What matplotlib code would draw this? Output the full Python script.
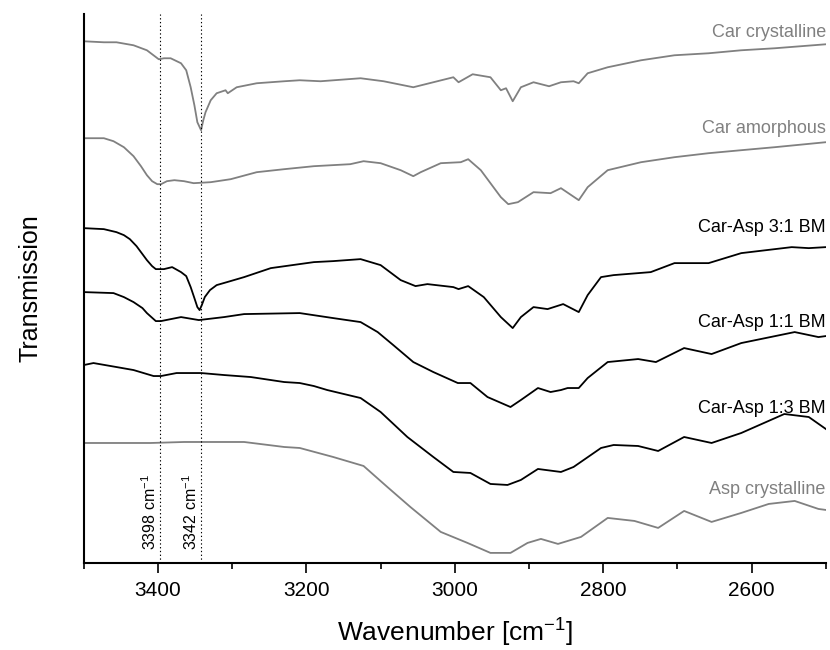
import numpy as np
import matplotlib
matplotlib.use('Agg')
import matplotlib.pyplot as plt
from matplotlib.ticker import MultipleLocator

plt.rcParams['font.family'] = ['Liberation Sans', 'DejaVu Sans']
plt.rcParams['mathtext.fontset'] = 'custom'
plt.rcParams['mathtext.rm'] = 'Liberation Sans'
plt.rcParams['mathtext.it'] = 'Liberation Sans:italic'

#%% spectra (wavenumber in cm-1, transmission in a.u. with offsets)
car_cryst_wn = [3500, 3473, 3456, 3433, 3415, 3399, 3392, 3383, 3369, 3362, 3356, 3351,
                3347, 3342, 3339, 3336, 3329, 3321, 3309, 3306, 3294, 3267, 3230, 3209,
                3181, 3127, 3096, 3056, 3029, 3002, 2995, 2976, 2952, 2938, 2931, 2922,
                2911, 2894, 2873, 2857, 2840, 2833, 2821, 2794, 2749, 2704, 2658, 2614,
                2569, 2500]
car_cryst = [522, 521, 521, 518, 513, 504, 505, 505, 500, 493, 476, 458,
             441, 433, 443, 451, 463, 470, 473, 470, 476, 480, 482, 483,
             482, 485, 482, 476, 481, 486, 481, 489, 486, 473, 475, 462,
             476, 481, 477, 481, 482, 480, 490, 496, 503, 508, 510, 513,
             515, 519]

car_amor_wn = [3500, 3473, 3460, 3446, 3433, 3423, 3415, 3408, 3401, 3396, 3388, 3378,
               3365, 3352, 3329, 3302, 3267, 3230, 3190, 3141, 3123, 3100, 3073, 3056,
               3046, 3019, 2992, 2982, 2965, 2938, 2928, 2915, 2894, 2871, 2857, 2833,
               2821, 2794, 2749, 2704, 2658, 2614, 2569, 2500]
car_amor = [425, 425, 422, 416, 407, 397, 388, 382, 379, 379, 382, 383,
            382, 380, 381, 384, 391, 394, 397, 399, 402, 400, 393, 387,
            391, 400, 401, 404, 393, 366, 359, 361, 371, 370, 375, 363,
            376, 393, 401, 406, 410, 413, 416, 421]

bm31_wn = [3500, 3473, 3456, 3446, 3438, 3429, 3421, 3415, 3408, 3403, 3392, 3381,
           3369, 3362, 3356, 3351, 3347, 3344, 3341, 3337, 3330, 3321, 3307, 3284,
           3248, 3190, 3164, 3127, 3100, 3073, 3053, 3037, 3002, 2995, 2982, 2961,
           2938, 2922, 2911, 2894, 2875, 2854, 2833, 2821, 2803, 2786, 2736, 2704,
           2658, 2614, 2546, 2523, 2500]
bm31 = [335, 334, 331, 328, 324, 317, 309, 303, 297, 294, 294, 296,
        291, 287, 276, 265, 256, 253, 258, 266, 273, 278, 281, 286,
        295, 301, 302, 304, 298, 283, 277, 279, 276, 274, 277, 266,
        246, 235, 246, 256, 254, 259, 251, 268, 286, 288, 291, 300,
        300, 310, 316, 315, 316]

bm11_wn = [3500, 3460, 3446, 3433, 3421, 3415, 3403, 3396, 3369, 3345, 3311, 3284,
           3209, 3164, 3127, 3104, 3083, 3056, 3029, 2996, 2979, 2956, 2925, 2911,
           2888, 2871, 2857, 2848, 2833, 2821, 2794, 2753, 2729, 2691, 2654, 2614,
           2542, 2510, 2500]
bm11 = [271, 270, 266, 261, 255, 250, 242, 242, 246, 243, 246, 249,
        250, 245, 241, 231, 218, 201, 191, 180, 180, 166, 156, 163,
        175, 171, 173, 175, 175, 185, 201, 204, 201, 215, 209, 220,
        231, 226, 227]

bm13_wn = [3500, 3487, 3456, 3433, 3406, 3396, 3375, 3342, 3311, 3275, 3230, 3209,
           3190, 3172, 3127, 3100, 3064, 3029, 3002, 2979, 2952, 2929, 2911, 2888,
           2857, 2840, 2803, 2786, 2753, 2726, 2691, 2654, 2614, 2556, 2523, 2500]
bm13 = [198, 200, 196, 193, 187, 187, 190, 190, 188, 186, 181, 180,
        177, 173, 165, 151, 126, 106, 91, 90, 79, 78, 83, 94,
        91, 96, 115, 118, 117, 112, 126, 120, 130, 149, 146, 134]

asp_cryst_wn = [3500, 3410, 3365, 3284, 3230, 3209, 3164, 3123, 3091, 3060, 3019, 2983,
                2952, 2925, 2902, 2884, 2861, 2830, 2794, 2758, 2726, 2691, 2654, 2614,
                2577, 2542, 2510, 2500]
asp_cryst = [120, 120, 121, 121, 116, 115, 106, 97, 76, 56, 31, 20,
             10, 10, 20, 24, 19, 26, 45, 42, 35, 52, 41, 50,
             59, 62, 54, 53]

names = ['Car crystalline', 'Car amorphous', 'Car-Asp 3:1 BM',
         'Car-Asp 1:1 BM', 'Car-Asp 1:3 BM', 'Asp crystalline']
marked_bands = [3398, 3342]

gray = '#808080'
spectra = [(car_cryst_wn, car_cryst, gray),
           (car_amor_wn, car_amor, gray),
           (bm31_wn, bm31, 'black'),
           (bm11_wn, bm11, 'black'),
           (bm13_wn, bm13, 'black'),
           (asp_cryst_wn, asp_cryst, gray)]
label_y = [531, 435, 336, 241, 155, 73]

fig = plt.figure(figsize=(8.3, 6.5), dpi=100)
ax = fig.add_axes([0.101, 0.134, 0.894, 0.844])

for (wn, tr, col), name, ly in zip(spectra, names, label_y):
    ax.plot(wn, tr, color=col, lw=1.3)
    ax.text(2500, ly, name, color=col, fontsize=13, ha='right', va='center')

# band positions
for b in marked_bands:
    ax.axvline(b, color='black', lw=0.8, ls=(0, (1.2, 2.2)))
    ax.text(b + 1, 13, '%d cm$^{-1}$' % b, rotation=90, fontsize=11.5,
            ha='right', va='bottom')

ax.set_xlim(3500, 2500)
ax.set_ylim(0, 549)
ax.set_yticks([])
ax.xaxis.set_major_locator(MultipleLocator(200))
ax.xaxis.set_minor_locator(MultipleLocator(100))
ax.tick_params(axis='x', which='major', length=7, width=1.2, labelsize=15, pad=6)
ax.tick_params(axis='x', which='minor', length=4, width=1.2)

for s in ['top', 'right']:
    ax.spines[s].set_visible(False)
for s in ['left', 'bottom']:
    ax.spines[s].set_linewidth(1.5)

ax.set_xlabel('Wavenumber [cm$^{-1}$]', fontsize=19, labelpad=12)
ax.set_ylabel('Transmission', fontsize=18, labelpad=30)

plt.savefig('out.png', dpi=100)
